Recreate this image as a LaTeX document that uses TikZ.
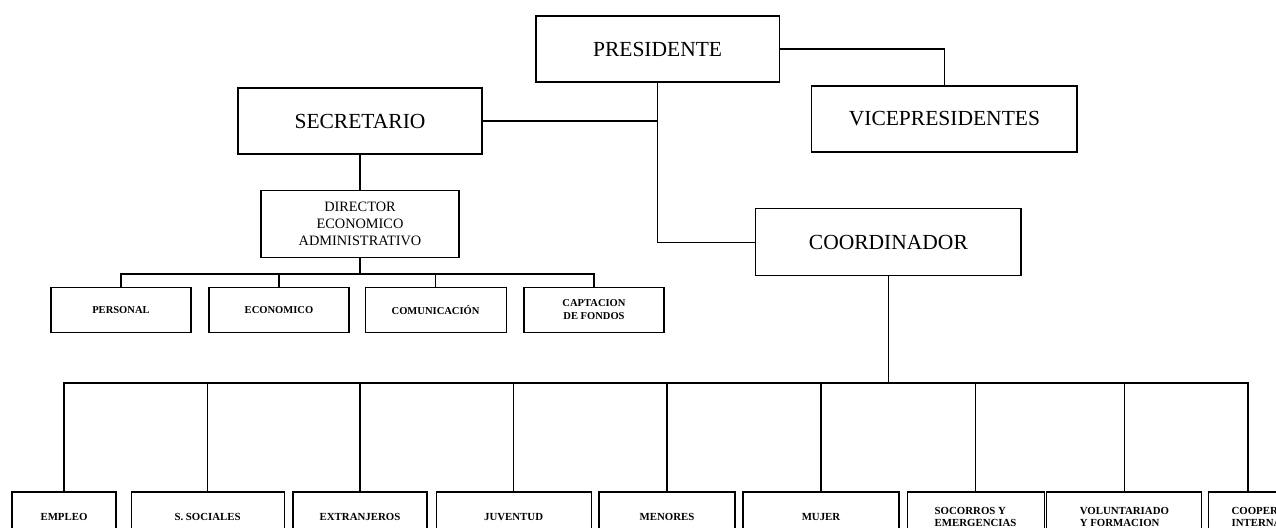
\documentclass[tikz,border=0pt]{standalone}
\usepackage{fontspec}
\setmainfont{Liberation Serif}
\usetikzlibrary{shapes, positioning}

\begin{document}
\begin{tikzpicture}[line width=0.8pt,
    topbox/.style={draw, minimum height=1.65cm, font=\fontsize{15.3}{18}\selectfont},
    dirbox/.style={draw, minimum height=1.675cm, align=center, font=\fontsize{10.2}{12}\selectfont},
    areabox/.style={draw, minimum height=1.125cm, minimum width=3.5cm, align=center, font=\fontsize{7.5}{9}\selectfont\bfseries},
    unitbox/.style={draw, minimum height=1.25cm, align=left, font=\fontsize{7.7}{9}\selectfont\bfseries}]
        \clip (0,0) rectangle (31.9,-13.2);

        \node[topbox, minimum width=6.08cm] (pres) at (16.44,-1.225) {PRESIDENTE};
        \node[topbox, minimum width=6.63cm] (vice) at (23.61,-2.975) {VICEPRESIDENTES};
        \node[topbox, minimum width=6.1cm] (sec) at (9.0,-3.025) {SECRETARIO};
        \node[dirbox, minimum width=4.95cm] (dir) at (9.0,-5.59) {DIRECTOR\\ECONOMICO\\ADMINISTRATIVO};
        \node[topbox, minimum width=6.63cm, minimum height=1.675cm] (coord) at (22.21,-6.06) {COORDINADOR};

        \node[areabox] (pers) at (3.025,-7.74) {PERSONAL};
        \node[areabox] (econ) at (6.975,-7.74) {ECONOMICO};
        \node[areabox, minimum width=3.525cm] (comu) at (10.89,-7.74) {COMUNICACIÓN};
        \node[areabox] (capt) at (14.85,-7.74) {CAPTACION\\DE FONDOS};

        \node[unitbox, minimum width=2.6cm] (empleo) at (1.6,-12.925) {EMPLEO};
        \node[unitbox, minimum width=3.825cm] (ssoc) at (5.19,-12.925) {S. SOCIALES};
        \node[unitbox, minimum width=3.35cm] (extr) at (9.0,-12.925) {EXTRANJEROS};
        \node[unitbox, minimum width=3.875cm] (juv) at (12.84,-12.925) {JUVENTUD};
        \node[unitbox, minimum width=3.4cm] (men) at (16.675,-12.925) {MENORES};
        \node[unitbox, minimum width=3.9cm] (muj) at (20.525,-12.925) {MUJER};
        \node[unitbox, minimum width=3.425cm] (soc) at (24.39,-12.925) {SOCORROS Y\\EMERGENCIAS};
        \node[unitbox, minimum width=3.875cm] (vol) at (28.11,-12.925) {VOLUNTARIADO\\Y FORMACION};
        \node[unitbox, anchor=west, text width=2.5cm, inner xsep=0.575cm] (coop) at (30.2,-12.925) {COOPERACION\\INTERNACIONAL};

        \coordinate (dbus) at (9.0,-6.85);
        \coordinate (cbus) at (22.21,-9.575);
        \coordinate (coopdrop) at (31.2,-9.575);

        \draw (pres.east) -| (vice.north);
        \draw (pres.south) |- (coord.west);
        \draw (sec.east) -- (sec.east -| pres.south);
        \draw (sec.south) -- (dir.north);

        \draw (dir.south) -- (dbus);
        \draw (pers.north) |- (capt.north |- dbus) -- (capt.north);
        \foreach \n in {econ,comu}
            \draw (\n.north) -- (\n.north |- dbus);

        \draw (coord.south) -- (cbus);
        \draw (empleo.north) |- (coopdrop) -- (coopdrop |- coop.north);
        \foreach \n in {ssoc,extr,juv,men,muj,soc,vol}
            \draw (\n.north) -- (\n.north |- cbus);
      \end{tikzpicture}
\end{document}
